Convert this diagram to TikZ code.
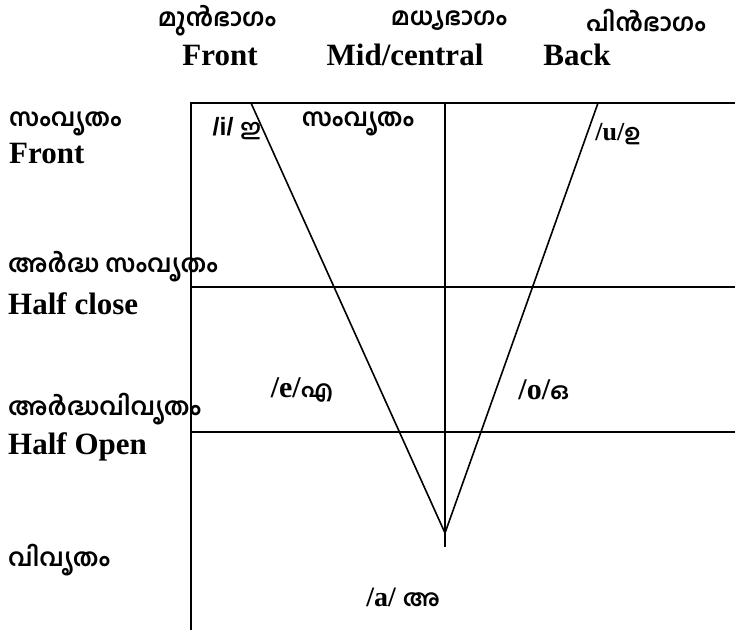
\documentclass[tikz,border=0pt]{standalone}
\usepackage{fontspec}
\setmainfont{Liberation Serif}
\newfontfamily\ml[Script=Malayalam]{Hind Kochi}
\newfontfamily\sansf{Liberation Sans}
\begin{document}
\begin{tikzpicture}[x=1pt,y=-1pt,
  frame/.style={line width=2pt,black},
  midline/.style={line width=2.6pt,black},
  diag/.style={line width=1.6pt,black},
  mlt/.style={font=\ml\bfseries\fontsize{24.5}{28}\selectfont,inner sep=0pt},
  ent/.style={font=\bfseries\fontsize{31}{35}\selectfont,inner sep=0pt}]
\useasboundingbox (0,0) rectangle (735,630);
% frame coordinates
\coordinate (tl) at (191,103);
\coordinate (tr) at (735,103);
\coordinate (bl) at (191,630);
\coordinate (hcL) at (191,287);
\coordinate (hcR) at (735,287);
\coordinate (hoL) at (191,432);
\coordinate (hoR) at (735,432);
\coordinate (mt) at (445,103);
\coordinate (mb) at (445,547);
\coordinate (dl) at (251,103);
\coordinate (dr) at (598,103);
\coordinate (vb) at (445,533);
% lines
\draw[frame] (bl) -- (tl) -- (tr);
\draw[frame] (hcL) -- (hcR);
\draw[frame] (hoL) -- (hoR);
\draw[midline] (mt) -- (mb);
\draw[diag] (dl) -- (vb) -- (dr);
% column headings
\node[mlt] (mfront) at (217,21) {മുൻഭാഗം};
\node[mlt] (mmid) at (449,21) {മധ്യഭാഗം};
\node[mlt] (mback) at (646,21) {പിൻഭാഗം};
\node[ent] (efront) at (220,55) {Front};
\node[ent] (emid) at (405,55) {Mid/central};
\node[ent] (eback) at (577,55) {Back};
% row headings
\node[mlt,anchor=west] (r1m) at (9,124) {സംവൃതം};
\node[ent,anchor=west] (r1e) at (9,153) {Front};
\node[mlt,anchor=west] (r2m) at (8,267) {അർദ്ധ സംവൃതം};
\node[ent,anchor=west] (r2e) at (8,304) {Half close};
\node[mlt,anchor=west] (r3m) at (8,409) {അർദ്ധവിവൃതം};
\node[ent,anchor=west] (r3e) at (8,447) {Half Open};
\node[mlt,anchor=west] (r4m) at (8,560) {വിവൃതം};
% vowels
\node[inner sep=0pt] (vi) at (237,129) {{\sansf\bfseries\fontsize{25}{29}\selectfont /i/ }{\ml\bfseries\fontsize{22}{26}\selectfont ഇ}};
\node[mlt] (inner) at (358,124) {സംവൃതം};
\node[inner sep=0pt] (vu) at (618,134) {{\bfseries\fontsize{26}{30}\selectfont /u/}{\ml\bfseries\fontsize{22}{26}\selectfont ഉ}};
\node[inner sep=0pt] (ve) at (302,390) {{\bfseries\fontsize{30}{34}\selectfont /e/}{\ml\bfseries\fontsize{23}{27}\selectfont എ}};
\node[inner sep=0pt] (vo) at (544,390) {{\bfseries\fontsize{30}{34}\selectfont /o/}{\ml\bfseries\fontsize{23}{27}\selectfont ഒ}};
\node[inner sep=0pt] (va) at (403,597) {{\bfseries\fontsize{28}{32}\selectfont /a/ }{\ml\bfseries\fontsize{23}{27}\selectfont അ}};
\end{tikzpicture}
\end{document}
